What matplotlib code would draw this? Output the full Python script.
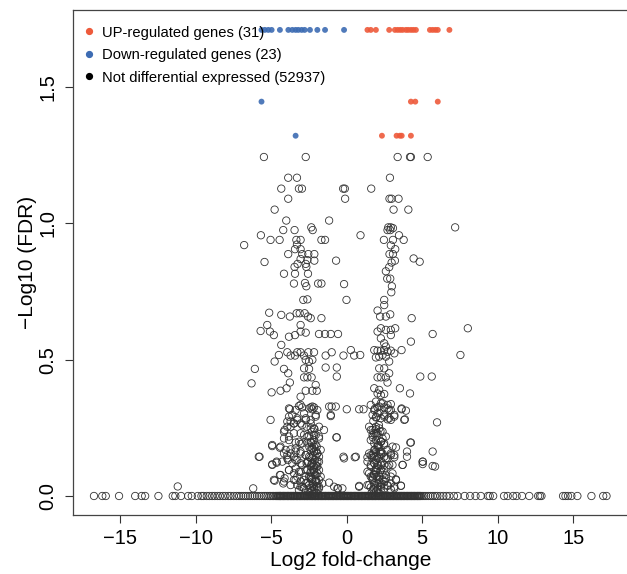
import matplotlib
matplotlib.use('Agg')
import matplotlib.pyplot as plt
from matplotlib.lines import Line2D

plt.rcParams['font.family'] = ['Liberation Sans', 'DejaVu Sans']

# up-regulated genes: log2 fold-change / -log10(FDR)
up_lfc = [1.37, 1.59, 1.93, 2.81, 3.19, 3.37, 3.54, 3.70, 3.92, 4.07, 4.25, 4.41, 4.58,
          5.51, 5.69, 5.87, 6.03, 6.80, 4.25, 4.54, 6.03, 2.33, 3.30, 3.52, 3.64, 4.25]
up_fdr = [1.709, 1.709, 1.709, 1.709, 1.709, 1.709, 1.709, 1.709, 1.709, 1.709, 1.709, 1.709, 1.709,
          1.709, 1.709, 1.709, 1.709, 1.709, 1.446, 1.446, 1.446, 1.321, 1.321, 1.321, 1.321, 1.321]

# down-regulated genes
down_lfc = [-5.65, -5.43, -5.20, -4.98, -4.43, -3.87, -3.61, -3.39, -3.21, -2.99, -2.79,
            -2.44, -1.95, -1.44, -0.18, -5.65, -3.39]
down_fdr = [1.709, 1.709, 1.709, 1.709, 1.709, 1.709, 1.709, 1.709, 1.709, 1.709, 1.709,
            1.709, 1.709, 1.709, 1.709, 1.446, 1.321]

# not differentially expressed, above the baseline
nd_lfc = [
    -5.49, -2.72, -3.88, -3.30, -4.34, -3.17, -2.97, -3.88, -4.78, -4.01, -1.17, -4.21, -3.46,
    -2.35, -2.26, -5.69, -5.05, -4.45, -3.34, -3.06, -1.68, -1.44, -6.80, -3.30, -3.43, -3.06,
    -3.88, -2.95, -2.55, -2.15, -3.06, -2.61, -2.15, -0.71, -5.45, -3.26, -3.46, -2.72, -2.68,
    -4.16, -3.43, -2.57, -3.50, -2.77, -2.68, -1.90, -1.68, -2.88, -2.61, -5.14, -4.34, -3.77,
    -3.32, -3.12, -2.79, -2.57, -2.39, -1.68,
    3.37, 4.19, 4.25, 5.36, 2.86, -0.24, -0.13, 1.62, -0.11, 2.83, 2.97, 3.43, 3.10, 4.08,
    2.75, 2.92, 3.06, 2.70, 2.88, 7.18, 0.91, 3.46, 2.46, 3.06, 3.77, 2.92, 3.21, 2.83, 3.06,
    4.43, 4.83, 2.97, 3.19, 2.81, 2.59, 2.68, 2.88, 2.99, 2.95, -0.18, -0.02, 2.48, 2.48, 2.04,
    2.21, 2.59, 2.88, 4.30,
    -5.71, -5.27, -5.09, -4.83, -3.83, -3.43, -3.06, -3.06, -2.72, -1.84, -1.44, -1.06, -0.58,
    -4.34, -4.78, -4.50, -3.94, -3.72, -3.43, -3.28, -3.06, -2.83, -2.55, -2.17, -2.72, -2.50,
    -2.28, -1.40, -1.00, -6.09, -4.16, -3.88, -2.83, -2.50, -1.40, -0.66, -6.31, -3.77, -3.99,
    -4.39, -4.98, -2.83, -2.61, -2.33, -2.06, -2.72, -2.28, -1.99, -0.66, -3.06, -3.17, -3.77,
    -2.95, -2.39, -2.17, -2.28, -1.17, -1.00, -1.06, -5.05, -3.83, -3.72, -3.50, -3.28, -3.06,
    -2.72, -2.66, -2.39, -2.06, -2.39, -4.12, -3.94, -1.51, -3.06, -2.83, -2.17, -1.84, -4.16,
    -3.83, -3.39, -3.06, -2.61, -2.28, -1.99, -0.69, -4.94, -4.43, -3.72, -3.39, -4.16, -3.94,
    -3.50, -3.06, -2.72, -2.50, -2.17, -1.95, -1.84, -5.78, -4.94, -4.65, -3.90, -3.39, -3.06,
    -2.66, -2.28, -1.95, -3.83, -3.39, -3.06, -2.61, -2.17, -1.95, -4.43, -4.12, -3.28, -2.72,
    -2.39, -2.06, -1.84, -6.20, -4.78, -4.21, -3.28, -2.95, -2.50, -2.17, -1.84, -1.17, -0.58,
    -2.28, -2.06, -2.17, -1.95, -2.39, -2.06, -2.28, -2.61, -1.95, -2.83, -3.50, -3.06, -11.2,
    2.04, 2.26, 2.59, 2.92, 3.21, 2.92, 2.26, 2.48, 2.59, 4.25, 5.69, 8.02, -0.22, 0.27, 0.49,
    0.89, 1.82, 2.04, 2.26, 2.48, 2.70, 2.92, 3.15, 3.63, 1.93, 2.15, 2.37, 2.59, 2.81, 7.53,
    2.15, 2.48, 2.81, 2.04, 2.26, 2.59, 2.70, 4.87, 5.63, 1.82, 2.15, 2.04, 2.26, 2.48, 3.52,
    4.19, -0.73, 0.00, 0.82, 1.11, 1.82, 2.04, 2.26, 2.48, 2.70, 2.92, 2.81, 3.63, 3.92, 1.93,
    2.26, 2.48, 2.70, 2.92, 3.15, 3.85, 5.98, 1.59, 1.71, 1.93, 2.04, 1.82, 2.15, 2.37, 2.48,
    2.26, 3.26, 4.21, 3.99, -0.22, 0.60, 1.37, 1.59, 1.82, 2.04, 2.26, 2.48, 2.70, 2.92, 3.15,
    5.03, 5.69, 5.03, 5.69, 5.85, 1.37, 1.59, 1.82, 2.04, 2.26, 2.48, 2.81, 3.03, 3.26, 3.70,
    0.82, 1.48, 1.71, 1.82, 2.04, 2.26, 2.48, 2.70, 2.92, 3.15, 3.59, -0.62, -0.29, 1.93, 2.15,
    2.37, 2.59, 1.93, 1.59, 1.82, 2.26, 2.04, 1.93]
nd_fdr = [
    1.243, 1.243, 1.167, 1.167, 1.127, 1.127, 1.127, 1.090, 1.050, 1.010, 1.010, 0.975, 0.975,
    0.985, 0.975, 0.956, 0.939, 0.939, 0.939, 0.939, 0.939, 0.939, 0.920, 0.922, 0.905, 0.905,
    0.887, 0.887, 0.887, 0.887, 0.869, 0.865, 0.863, 0.863, 0.858, 0.851, 0.840, 0.851, 0.840,
    0.815, 0.815, 0.815, 0.779, 0.781, 0.769, 0.779, 0.779, 0.719, 0.721, 0.672, 0.664, 0.658,
    0.670, 0.670, 0.670, 0.658, 0.652, 0.652,
    1.243, 1.243, 1.243, 1.243, 1.167, 1.127, 1.127, 1.127, 1.090, 1.090, 1.090, 1.090, 1.050,
    1.050, 0.985, 0.985, 0.982, 0.975, 0.975, 0.985, 0.956, 0.956, 0.939, 0.939, 0.939, 0.919,
    0.905, 0.887, 0.887, 0.871, 0.859, 0.856, 0.863, 0.839, 0.824, 0.797, 0.797, 0.769, 0.747,
    0.777, 0.719, 0.719, 0.700, 0.680, 0.658, 0.658, 0.666, 0.652,
    0.605, 0.627, 0.603, 0.590, 0.584, 0.590, 0.627, 0.603, 0.599, 0.594, 0.594, 0.594, 0.594,
    0.554, 0.493, 0.517, 0.527, 0.515, 0.515, 0.527, 0.527, 0.515, 0.527, 0.527, 0.499, 0.493,
    0.499, 0.515, 0.527, 0.466, 0.466, 0.450, 0.468, 0.466, 0.471, 0.471, 0.413, 0.416, 0.395,
    0.386, 0.380, 0.435, 0.435, 0.435, 0.407, 0.386, 0.386, 0.386, 0.438, 0.364, 0.330, 0.318,
    0.325, 0.325, 0.325, 0.318, 0.328, 0.328, 0.293, 0.279, 0.291, 0.273, 0.266, 0.285, 0.266,
    0.279, 0.254, 0.279, 0.291, 0.248, 0.242, 0.254, 0.242, 0.230, 0.224, 0.224, 0.218, 0.211,
    0.205, 0.196, 0.191, 0.196, 0.193, 0.181, 0.215, 0.183, 0.177, 0.171, 0.163, 0.156, 0.150,
    0.144, 0.156, 0.150, 0.144, 0.163, 0.156, 0.144, 0.144, 0.116, 0.122, 0.132, 0.132, 0.120,
    0.120, 0.120, 0.126, 0.095, 0.101, 0.089, 0.095, 0.098, 0.083, 0.077, 0.065, 0.071, 0.073,
    0.071, 0.061, 0.059, 0.028, 0.056, 0.046, 0.040, 0.034, 0.040, 0.034, 0.028, 0.049, 0.028,
    0.175, 0.144, 0.108, 0.108, 0.089, 0.077, 0.053, 0.049, 0.046, 0.059, 0.059, 0.053, 0.035,
    0.603, 0.615, 0.609, 0.609, 0.615, 0.590, 0.578, 0.560, 0.548, 0.566, 0.594, 0.615, 0.515,
    0.535, 0.515, 0.517, 0.535, 0.533, 0.533, 0.535, 0.529, 0.533, 0.523, 0.535, 0.508, 0.511,
    0.517, 0.511, 0.493, 0.517, 0.468, 0.468, 0.450, 0.435, 0.435, 0.435, 0.416, 0.438, 0.438,
    0.395, 0.389, 0.376, 0.370, 0.374, 0.395, 0.376, 0.328, 0.318, 0.318, 0.318, 0.315, 0.325,
    0.340, 0.325, 0.321, 0.337, 0.315, 0.318, 0.313, 0.288, 0.285, 0.291, 0.281, 0.279, 0.291,
    0.281, 0.270, 0.242, 0.224, 0.205, 0.187, 0.169, 0.181, 0.211, 0.193, 0.163, 0.178, 0.196,
    0.163, 0.144, 0.144, 0.142, 0.150, 0.144, 0.138, 0.154, 0.144, 0.138, 0.150, 0.142, 0.126,
    0.163, 0.117, 0.110, 0.108, 0.089, 0.108, 0.077, 0.114, 0.095, 0.114, 0.114, 0.083, 0.061,
    0.114, 0.034, 0.040, 0.059, 0.028, 0.046, 0.034, 0.053, 0.040, 0.046, 0.028, 0.038, 0.028,
    0.028, 0.132, 0.071, 0.059, 0.077, 0.101, 0.071, 0.120, 0.199, 0.230, 0.254]

# extra genes in the two dense clusters near the bottom
cl_lfc = [
    -3.83, -3.61, -3.39, -3.06, -2.83, -2.50, -2.28, -2.06, -1.95, -3.94, -3.72, -3.50, -3.28,
    -2.95, -2.72, -2.39, -2.17, -1.84, -4.16, -3.83, -3.50, -3.17, -2.95, -2.61, -2.39, -2.06,
    -1.84, -4.39, -4.05, -3.72, -3.39, -3.06, -2.72, -2.39, -2.17, -1.95, -1.73, -4.27, -3.94,
    -3.61, -3.28, -2.95, -2.61, -2.28, -2.06, -1.84, -3.83, -3.50, -3.17, -2.72, -2.39, -2.17,
    -1.84, -1.73, -4.16, -3.72, -3.39, -3.06, -2.72, -2.39, -2.06, -1.84, -1.62, -3.17, -2.83,
    -2.28, -1.95, -4.83, -4.39, -4.94, -4.65, -5.83, -4.94,
    1.59, 1.93, 2.15, 2.37, 2.70, 2.92, 3.15, 1.71, 2.04, 2.48, 2.81, 1.48, 1.71, 1.93, 2.15,
    2.37, 2.59, 1.59, 1.82, 2.04, 2.26, 2.48, 2.70, 3.03, 1.48, 1.71, 1.93, 2.15, 2.37, 2.59,
    2.92, 3.15, 1.37, 1.59, 1.82, 2.04, 2.26, 2.48, 2.70, 3.03, 1.48, 1.71, 1.93, 2.15, 2.37,
    2.59, 2.92, 3.26, 1.37, 1.59, 1.82, 2.04, 2.26, 2.48, 2.70, 2.92, 3.15, 3.59, 3.81, 3.99,
    4.25, 3.70, 5.03, 3.63, 0.82, 0.53, -0.18, -0.66, -1.06, -0.84,
    -2.55, -2.45, -2.35, -2.25, -2.15, -2.05, -1.98, -2.50, -2.40, -2.30, -2.20, -2.10, -2.00,
    -2.58, -2.42, -2.33, -2.22, -2.12, -2.03, -2.48, -2.37, -2.27, -2.17, -2.07, -2.52, -2.32,
    -2.14, -2.44, -2.24, -2.04,
    1.65, 1.75, 1.85, 1.95, 2.05, 2.15, 2.25, 2.35, 1.70, 1.80, 1.90, 2.00, 2.10, 2.20, 2.30,
    1.68, 1.78, 1.88, 1.98, 2.08, 2.18, 2.28, 1.72, 1.83, 1.93, 2.03, 2.13, 2.23, 1.76, 1.96,
    2.16, 1.86, 2.06]
cl_fdr = [
    0.321, 0.297, 0.315, 0.334, 0.303, 0.321, 0.328, 0.297, 0.315, 0.273, 0.254, 0.266, 0.279,
    0.260, 0.285, 0.266, 0.248, 0.254, 0.236, 0.218, 0.230, 0.199, 0.193, 0.218, 0.199, 0.224,
    0.211, 0.181, 0.169, 0.156, 0.175, 0.163, 0.150, 0.169, 0.181, 0.156, 0.169, 0.126, 0.138,
    0.120, 0.132, 0.114, 0.126, 0.138, 0.114, 0.126, 0.095, 0.083, 0.089, 0.095, 0.108, 0.089,
    0.095, 0.071, 0.053, 0.040, 0.059, 0.034, 0.046, 0.065, 0.053, 0.034, 0.046, 0.022, 0.028,
    0.022, 0.020, 0.059, 0.077, 0.114, 0.126, 0.144, 0.187,
    0.334, 0.346, 0.328, 0.340, 0.334, 0.315, 0.297, 0.297, 0.303, 0.297, 0.285, 0.254, 0.242,
    0.230, 0.248, 0.236, 0.218, 0.205, 0.193, 0.181, 0.199, 0.187, 0.169, 0.181, 0.156, 0.150,
    0.163, 0.144, 0.156, 0.138, 0.156, 0.150, 0.126, 0.114, 0.120, 0.101, 0.114, 0.095, 0.108,
    0.114, 0.083, 0.071, 0.089, 0.059, 0.077, 0.065, 0.071, 0.059, 0.040, 0.032, 0.046, 0.024,
    0.040, 0.028, 0.037, 0.024, 0.034, 0.037, 0.279, 0.144, 0.196, 0.114, 0.126, 0.321, 0.037,
    0.142, 0.138, 0.215, 0.297, 0.034,
    0.015, 0.030, 0.018, 0.042, 0.025, 0.055, 0.035, 0.070, 0.085, 0.062, 0.095, 0.078, 0.110,
    0.125, 0.140, 0.118, 0.150, 0.132, 0.165, 0.180, 0.195, 0.172, 0.205, 0.188, 0.220, 0.235,
    0.245, 0.010, 0.008, 0.012,
    0.012, 0.025, 0.040, 0.018, 0.032, 0.050, 0.022, 0.045, 0.065, 0.080, 0.095, 0.070, 0.110,
    0.088, 0.125, 0.140, 0.155, 0.170, 0.148, 0.185, 0.162, 0.200, 0.215, 0.230, 0.245, 0.222,
    0.260, 0.238, 0.275, 0.290, 0.305, 0.320, 0.012]

# genes sitting on the baseline (FDR ~ 1), log2 fold-change only
base_lfc = [
    -16.75, -16.2, -15.97, -15.09, -14.02, -13.59, -13.36, -12.48, -11.53, -11.36, -10.98,
    -10.51, -10.27, -9.87, -9.63, -9.5, -9.28, -9.1, -8.92, -8.75, -8.56, -8.4, -8.21, -8.05,
    -7.85, -7.7, -7.49, -7.3, -7.14, -7.0, -6.85, -6.7, -6.55, -6.4, -6.25, -6.1, -5.95, -5.8,
    -5.65, -5.5, -5.38, -5.25, -5.12, -5.03, -4.91, -4.84, -4.73, -4.66, -4.54, -4.43, -4.37,
    -4.24, -4.16, -4.05, -3.93, -3.87, -3.74, -3.66, -3.55, -3.46, -3.33, -3.27, -3.14, -3.06,
    -2.95, -2.83, -2.76, -2.64, -2.57, -2.45, -2.34, -2.26, -2.13, -2.07, -1.95, -1.86, -1.73,
    -1.65, -1.56, -1.44, -1.37, -1.24, -1.16, -1.05, -0.94, -0.87, -0.74, -0.66, -0.55, -0.43,
    -0.36, -0.24, -0.16, -0.05, 0.04, 0.13, 0.25, 0.33, 0.46, 0.54, 0.63, 0.75, 0.84, 0.96,
    1.03, 1.15, 1.24, 1.36, 1.44, 1.53, 1.66, 1.74, 1.85, 1.93, 2.06, 2.14, 2.25, 2.36, 2.44,
    2.55, 2.65, 2.73, 2.86, 2.94, 3.05, 3.13, 3.26, 3.34, 3.45, 3.56, 3.64, 3.75, 3.83, 3.96,
    4.04, 4.15, 4.26, 4.34, 4.45, 4.53, 4.66, 4.74, 4.85, 5.0, 5.12, 5.25, 5.4, 5.55, 5.7,
    5.85, 6.0, 6.2, 6.4, 6.6, 6.8, 7.1, 7.34, 7.81, 8.17, 8.53, 8.88, 9.35, 9.47, 9.7, 10.42,
    10.66, 11.02, 11.25, 11.61, 12.09, 12.68, 12.8, 12.9, 14.33, 14.49, 14.66, 14.88, 15.28,
    16.21, 16.99, 17.21,
    -4.6, -4.49, -4.41, -4.3, -4.2, -4.11, -4.0, -3.9, -3.81, -3.7, -3.6, -3.51, -3.4, -3.3,
    -3.21, -3.1, -3.0, -2.9, -2.8, -2.7, -2.61, -2.5, -2.4, -2.3, -2.2, -2.1, -2.01, -1.9,
    -1.8, -1.7, -1.6, -1.5, -1.41, -1.3, -1.2, -1.1, -1.0, -0.9, -0.8, -0.7, -0.6, -0.5, -0.4,
    -0.3, -0.2, -0.1, 0.0, 0.09, 0.2, 0.29, 0.4, 0.5, 0.59, 0.7, 0.8, 0.9, 1.0, 1.09, 1.2, 1.3,
    1.4, 1.5, 1.6, 1.7, 1.8, 1.9, 1.99, 2.1, 2.2, 2.3, 2.4, 2.5, 2.6, 2.7, 2.8, 2.9, 3.0, 3.1,
    3.2, 3.3, 3.4, 3.5, 3.6, 3.7, 3.8, 3.9, 4.0, 4.1, 4.2, 4.3, 4.4, 4.5, 4.6, 4.7, 4.8, 4.9]

labels = ['UP-regulated genes (31)', 'Down-regulated genes (23)',
          'Not differential expressed (52937)']
up_color = '#EE5A3B'
down_color = '#3D6CB3'
nd_color = '#333333'

fig = plt.figure(figsize=(6.27, 5.74), dpi=100)
ax = fig.add_axes([73 / 627, 59 / 574, 556 / 627, 505 / 574])

# open circles like R's pch=1; opaque so dense regions go solid
circ = dict(s=28, facecolors='none', edgecolors=nd_color, linewidths=0.6)
ax.scatter(base_lfc, [0.0] * len(base_lfc), **circ)
ax.scatter(nd_lfc, nd_fdr, **circ)
ax.scatter(cl_lfc, cl_fdr, **circ)
ax.scatter(up_lfc, up_fdr, s=18, color=up_color, edgecolors='none', alpha=0.9)
ax.scatter(down_lfc, down_fdr, s=18, color=down_color, edgecolors='none', alpha=0.9)

ax.set_xlim(-18.14, 18.7)
ax.set_ylim(-0.0697, 1.782)
ax.set_xticks([-15, -10, -5, 0, 5, 10, 15])
ax.set_yticks([0.0, 0.5, 1.0, 1.5])
ax.set_yticklabels(['0.0', '0.5', '1.0', '1.5'], rotation=90, va='center')
ax.tick_params(length=6, width=0.8, labelsize=14.5, color='#333333')
ax.tick_params(axis='x', pad=4)
ax.tick_params(axis='y', pad=5)
for side in ['left', 'top', 'bottom']:
    ax.spines[side].set_color('#444444')
    ax.spines[side].set_linewidth(0.9)
ax.spines['right'].set_visible(False)

ax.set_xlabel('Log2 fold-change', fontsize=15, labelpad=2)
ax.set_ylabel('\u2212Log10 (FDR)', fontsize=15, labelpad=1)

handles = [Line2D([], [], marker='o', ls='none', color=c, markersize=4.2)
           for c in [up_color, down_color, 'black']]
ax.legend(handles, labels, loc='upper left', bbox_to_anchor=(0.015, 0.975), frameon=False,
          fontsize=10.6, handlelength=0.7, handletextpad=0.5, labelspacing=0.58,
          borderpad=0.2, borderaxespad=0)

plt.savefig('out.png', dpi=100)
plt.close(fig)
